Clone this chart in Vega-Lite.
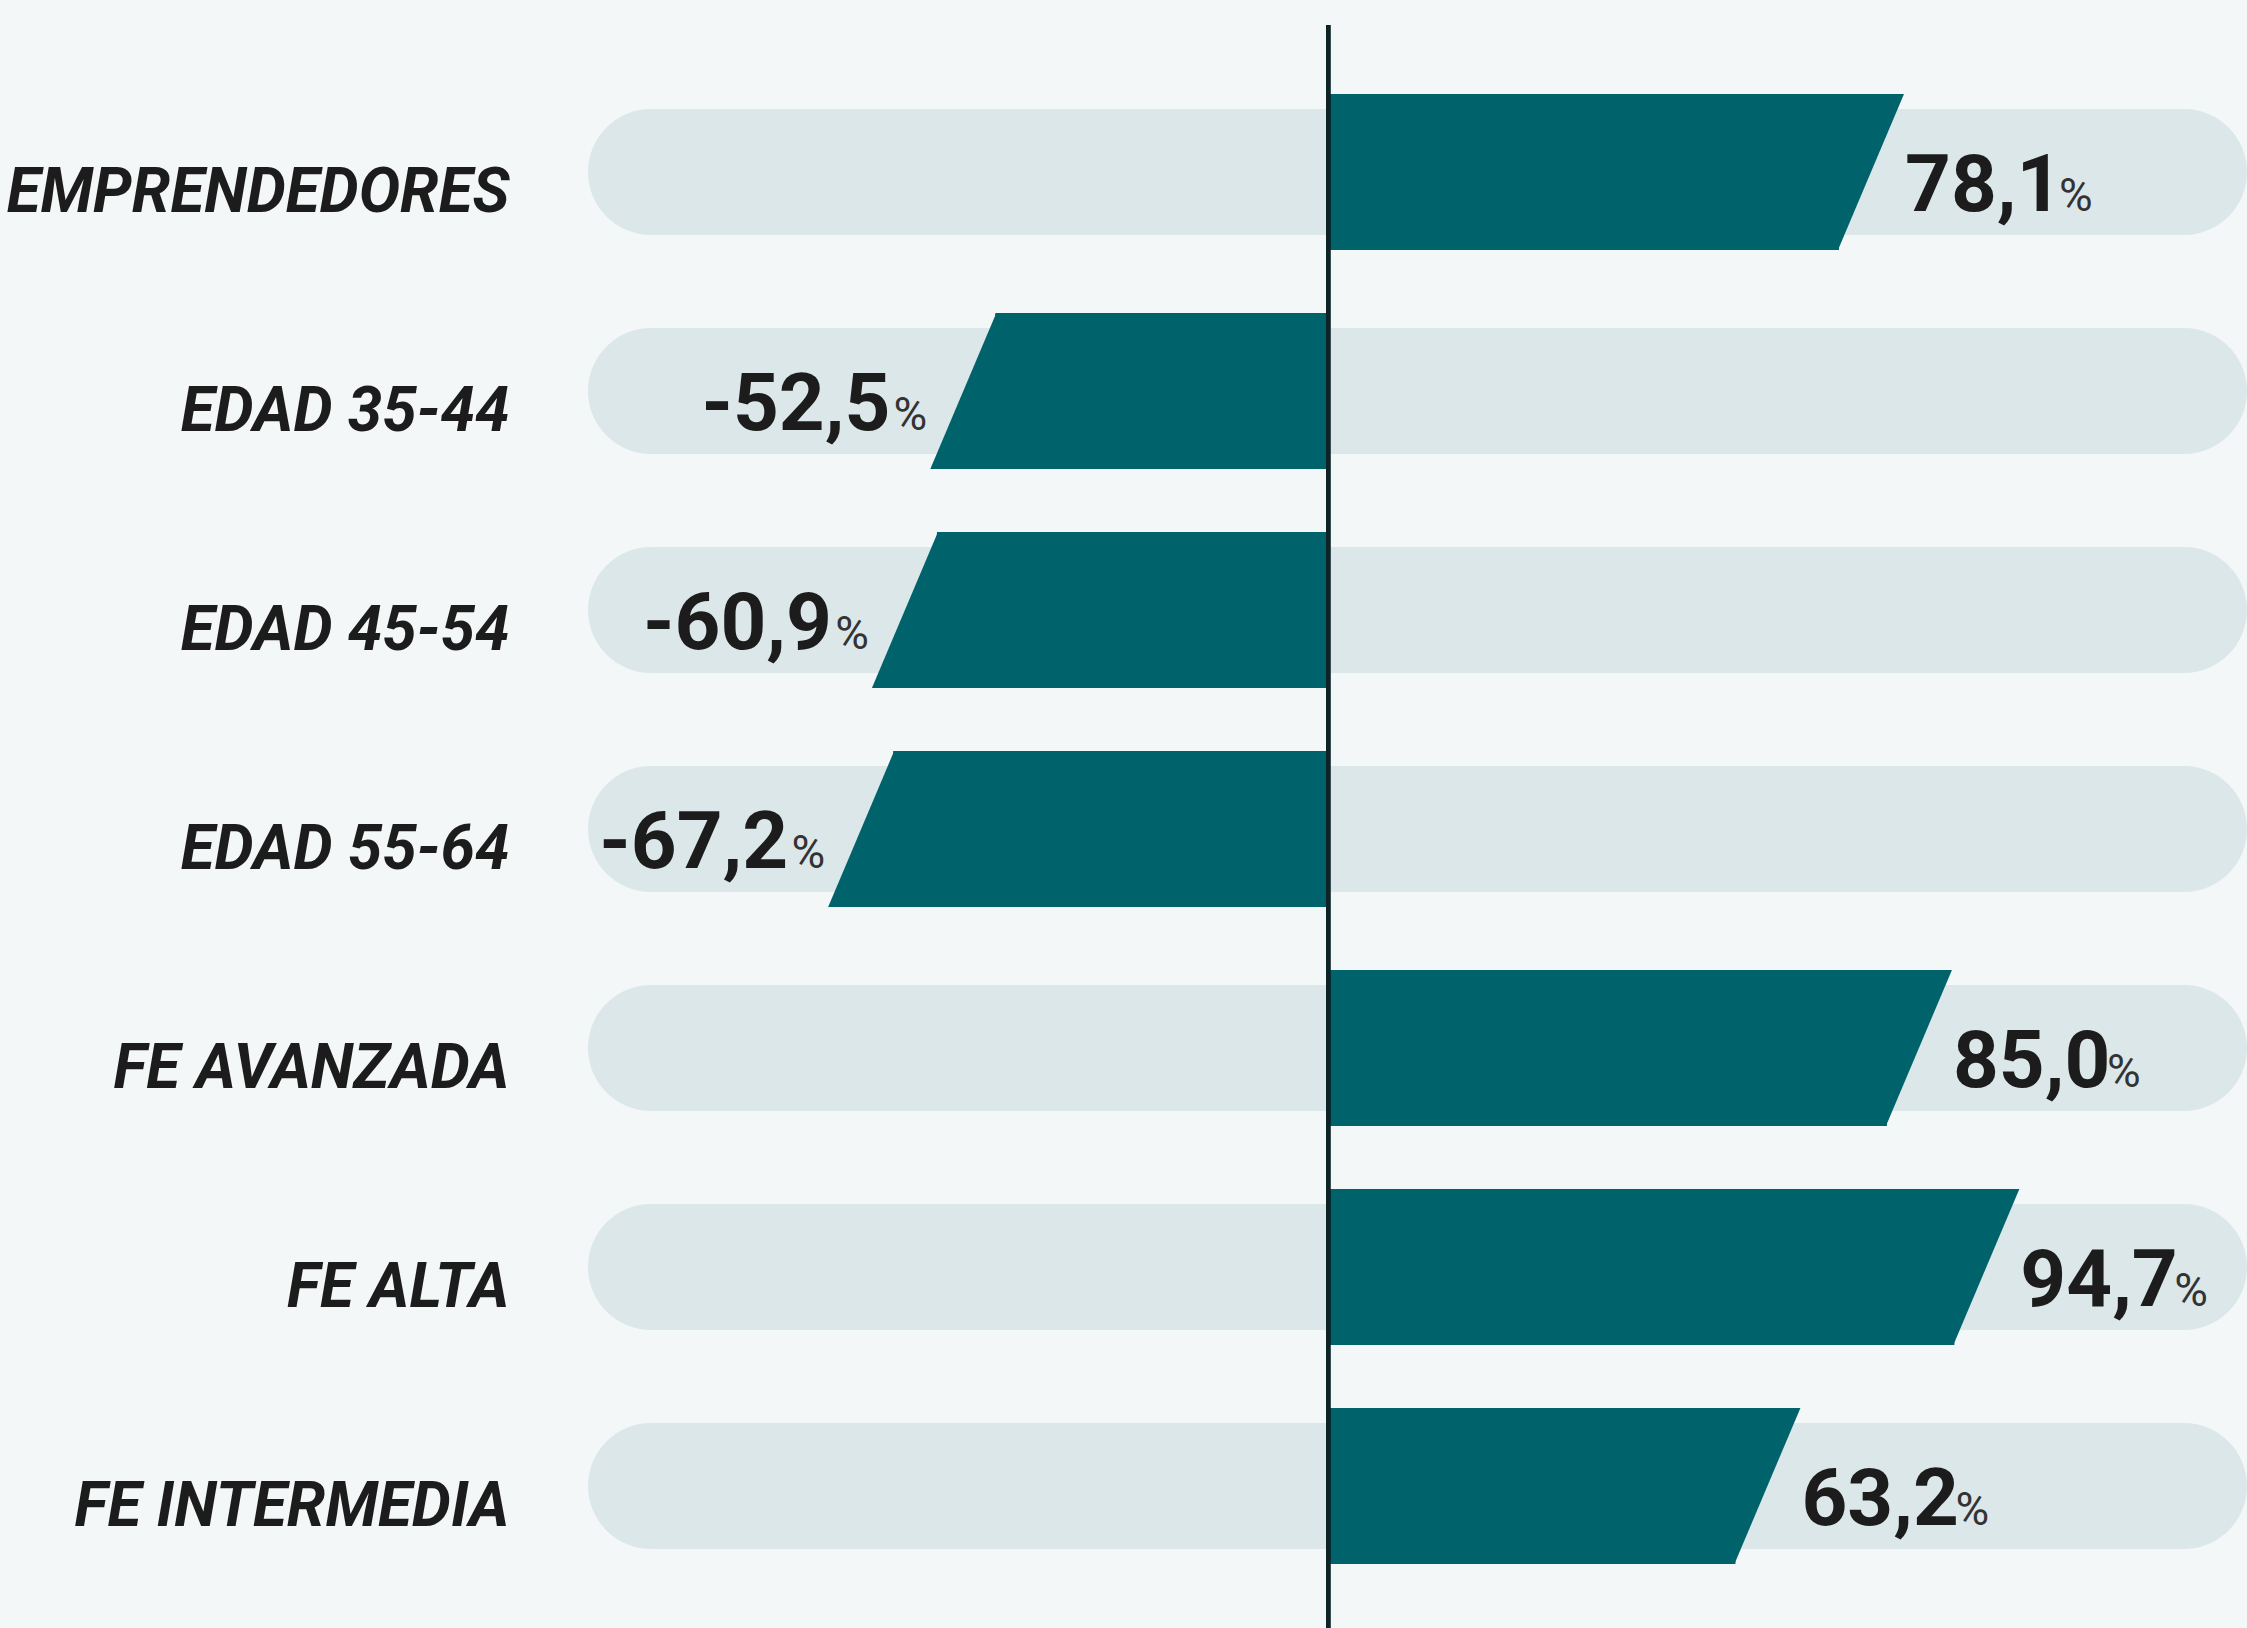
{
  "$schema": "https://vega.github.io/schema/vega-lite/v6.json",
  "autosize": {"type": "none"},
  "padding": {"left": 588, "top": 25, "right": 0, "bottom": 0},
  "width": 1659,
  "height": 1603,
  "background": "#f4f7f8",
  "config": {
    "view": {"stroke": null},
    "font": "Roboto",
    "locale": {"number": {"decimal": ",", "thousands": ".", "grouping": [3], "currency": ["", " €"], "minus": "-"}}
  },
  "data": {
    "values": [
      {"cat": "EMPRENDEDORES", "v": 78.1},
      {"cat": "EDAD 35-44", "v": -52.5},
      {"cat": "EDAD 45-54", "v": -60.9},
      {"cat": "EDAD 55-64", "v": -67.2},
      {"cat": "FE AVANZADA", "v": 85.0},
      {"cat": "FE ALTA", "v": 94.7},
      {"cat": "FE INTERMEDIA", "v": 63.2}
    ]
  },
  "encoding": {
    "y": {
      "field": "cat", "type": "nominal", "sort": null,
      "scale": {"paddingInner": 0, "paddingOuter": 0.16, "align": 0.536},
      "axis": {
        "title": null, "domain": false, "ticks": false, "grid": false,
        "labelPadding": 79, "labelFontSize": 62, "labelFontWeight": "bold",
        "labelFontStyle": "italic", "labelColor": "#1c1c1c", "labelLimit": 0,
        "labelFont": "Roboto", "labelBaseline": "alphabetic",
        "labelOffset": 40, "labelAlign": "right"
      }
    }
  },
  "layer": [
    {
      "mark": {"type": "rect", "color": "#dce7ea", "cornerRadius": 63, "height": {"band": 0.575}},
      "encoding": {
        "x": {"datum": -106.5, "type": "quantitative", "scale": {"domain": [-106.5, 132.2], "nice": false, "zero": false}, "axis": null},
        "x2": {"datum": 132.2}
      }
    },
    {
      "transform": [{"filter": "datum.v > 0"}],
      "layer": [
        {
          "mark": {"type": "rect", "color": "#00636b", "height": {"band": 0.7123}, "xOffset": -32},
          "encoding": {"x": {"field": "v", "type": "quantitative"}, "x2": {"datum": 0}}
        },
        {
          "mark": {"type": "point", "filled": true, "opacity": 1, "color": "#00636b", "strokeWidth": 0, "size": 24336, "shape": "M -0.423 1 L 0.423 -1 L -0.423 -1 Z"},
          "encoding": {"x": {"field": "v", "type": "quantitative"}}
        },
        {
          "mark": {"type": "text", "align": "left", "baseline": "alphabetic", "dx": 34, "dy": 39, "fontSize": 80, "fontWeight": "bold", "color": "#1c1c1c"},
          "encoding": {"x": {"field": "v", "type": "quantitative"}, "text": {"field": "v", "type": "quantitative", "format": ".1f"}}
        },
        {
          "mark": {"type": "text", "align": "left", "baseline": "alphabetic", "dx": 188, "dy": 39, "fontSize": 46, "color": "#333333", "text": "%"},
          "encoding": {"x": {"field": "v", "type": "quantitative"}}
        }
      ]
    },
    {
      "transform": [{"filter": "datum.v < 0"}],
      "layer": [
        {
          "mark": {"type": "rect", "color": "#00636b", "height": {"band": 0.7123}, "xOffset": 32},
          "encoding": {"x": {"field": "v", "type": "quantitative"}, "x2": {"datum": 0}}
        },
        {
          "mark": {"type": "point", "filled": true, "opacity": 1, "color": "#00636b", "strokeWidth": 0, "size": 24336, "shape": "M 0.423 -1 L 0.423 1 L -0.423 1 Z"},
          "encoding": {"x": {"field": "v", "type": "quantitative"}}
        },
        {
          "mark": {"type": "text", "align": "right", "baseline": "alphabetic", "dx": -73, "dy": 39, "fontSize": 80, "fontWeight": "bold", "color": "#1c1c1c"},
          "encoding": {"x": {"field": "v", "type": "quantitative"}, "text": {"field": "v", "type": "quantitative", "format": ".1f"}}
        },
        {
          "mark": {"type": "text", "align": "right", "baseline": "alphabetic", "dx": -36, "dy": 39, "fontSize": 46, "color": "#333333", "text": "%"},
          "encoding": {"x": {"field": "v", "type": "quantitative"}}
        }
      ]
    },
    {
      "mark": {"type": "rule", "color": "#0d2326", "strokeWidth": 4},
      "encoding": {"x": {"datum": 0}, "y": null}
    }
  ]
}
